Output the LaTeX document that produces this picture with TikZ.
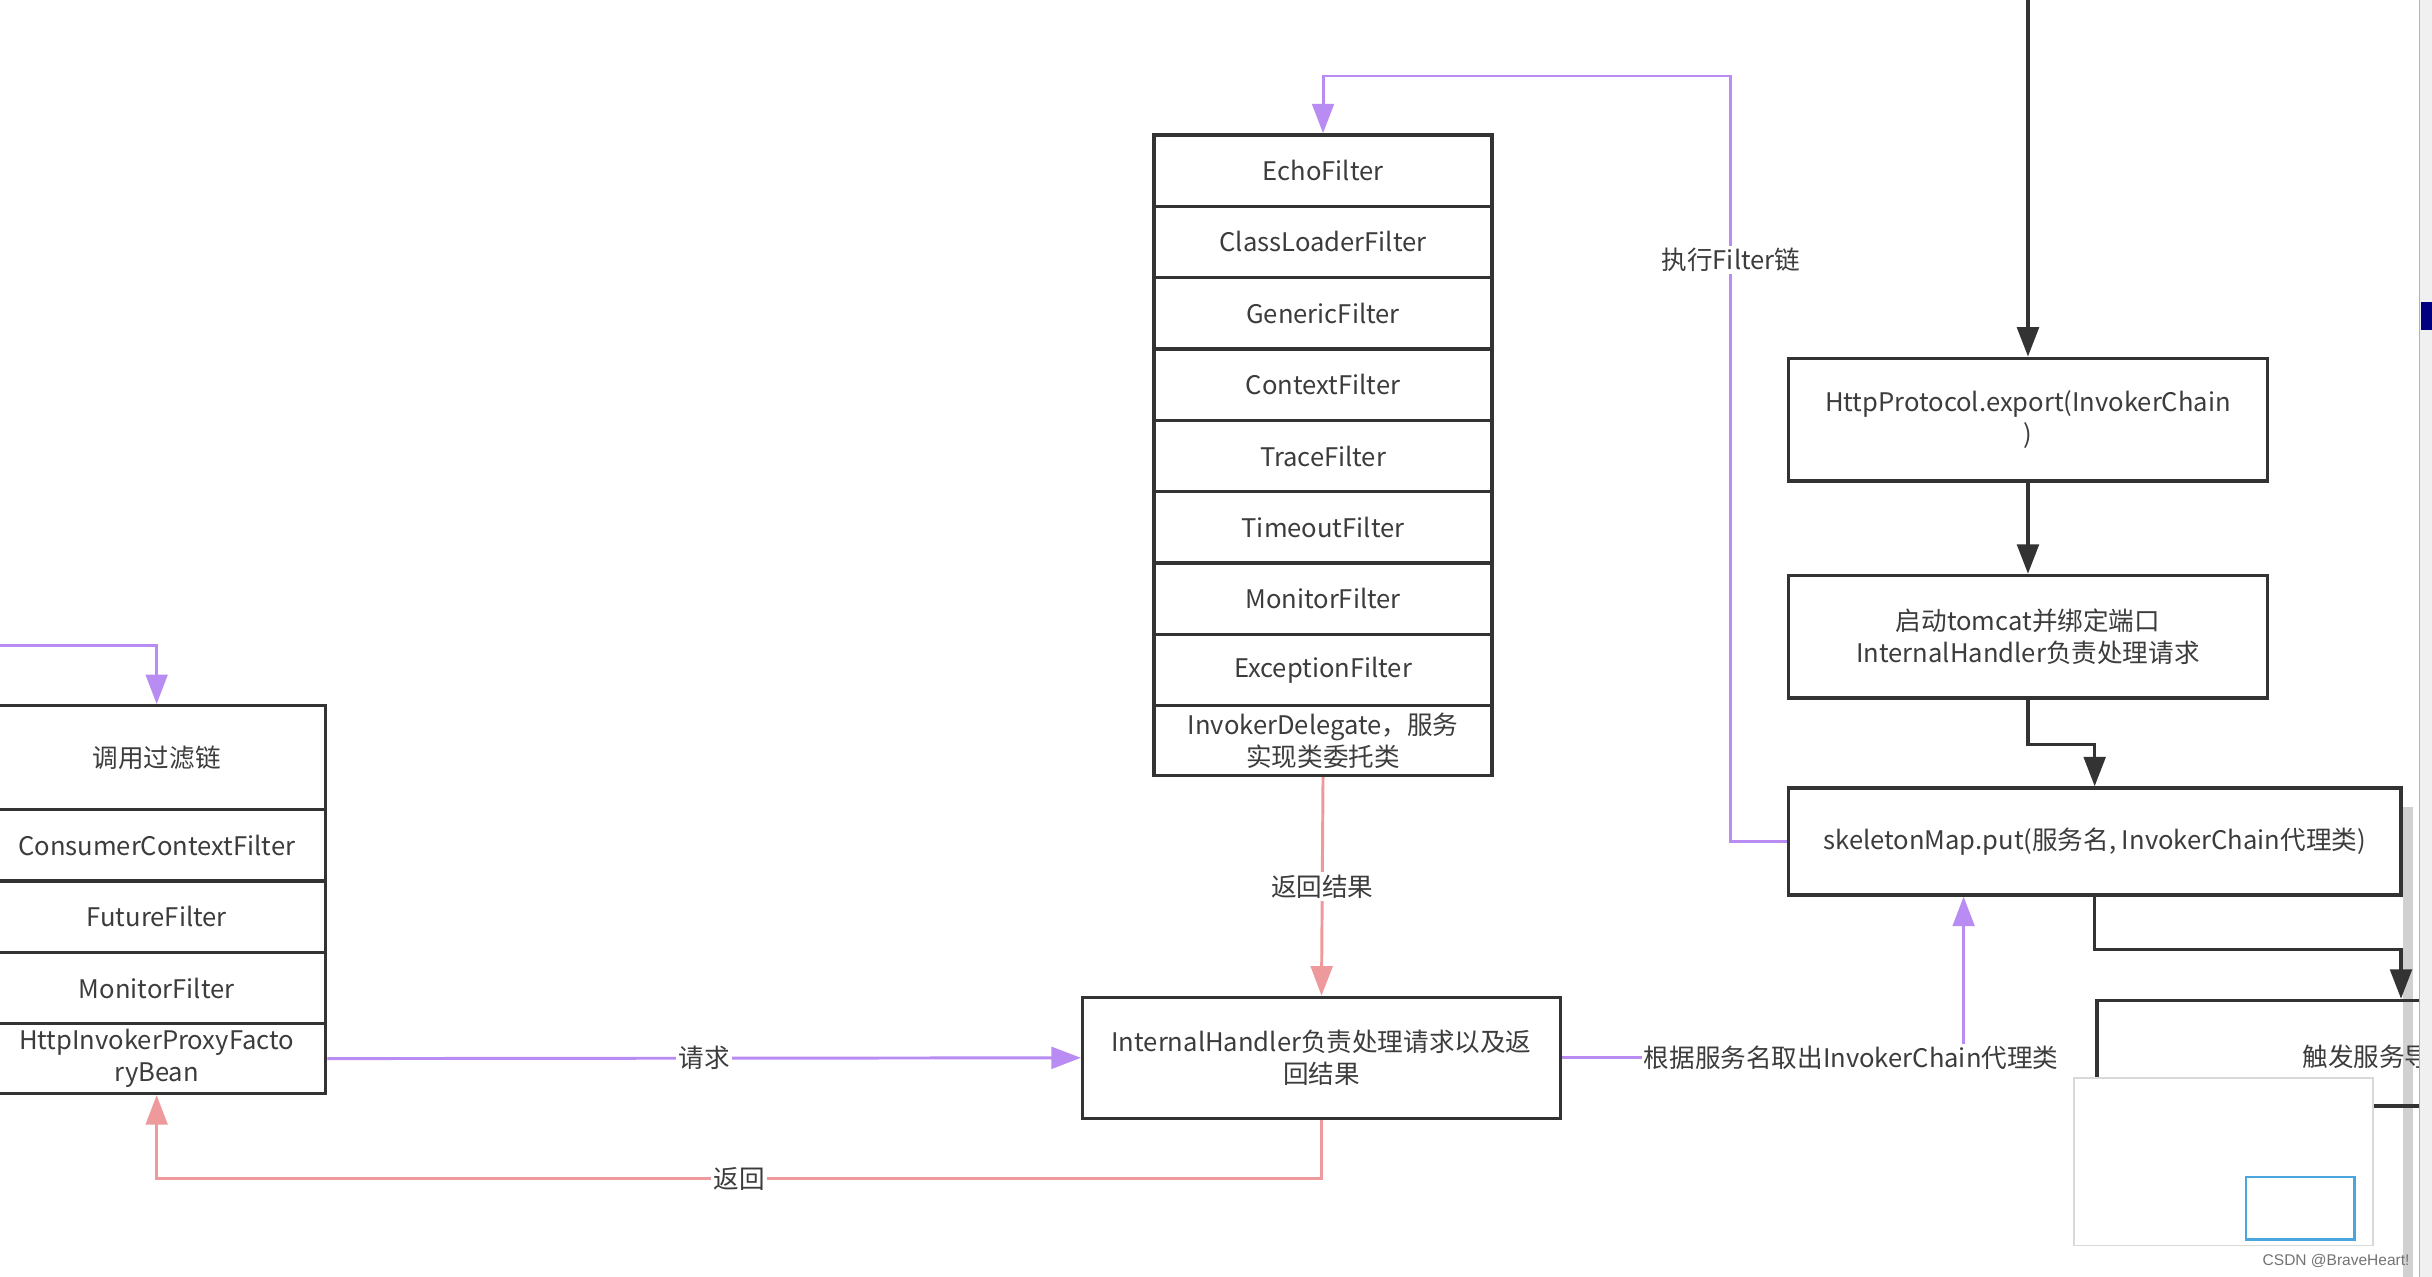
\documentclass[tikz,border=0pt]{standalone}
\usepackage{fontspec}
\setmainfont{Noto Sans CJK SC}
\newfontfamily\wmfont{Liberation Sans}
\usetikzlibrary{arrows.meta}

\definecolor{linec}{HTML}{333333}
\definecolor{txtc}{HTML}{3C3C3C}
\definecolor{reqc}{HTML}{B98CF3}
\definecolor{retc}{HTML}{EE9A9C}
\definecolor{panelc}{HTML}{F0F0F0}
\definecolor{mapc}{HTML}{4BA6E0}

\begin{document}
\begin{tikzpicture}[x=1pt,y=-1pt,>/.tip={Triangle[length=19pt,width=14pt]},
	font=\fontsize{16.5}{20.5}\selectfont,
	box/.style={draw=linec,line width=2.2pt,inner sep=0pt,align=center,text=txtc},
	row/.style={box,minimum width=218pt,minimum height=46pt},
	req/.style={draw=reqc,line width=1.9pt,->},
	back/.style={draw=retc,line width=1.9pt,->},
	flow/.style={draw=linec,line width=2.2pt,->},
	lbl/.style={fill=white,inner sep=1.5pt,text=txtc}]
	\fill[white] (0,0) rectangle (1568,823);
	\useasboundingbox (0,0) rectangle (1568,823);
	% scroll bar under the drawing
	\fill[black!18] (1549,520) rectangle (1556,823);

	% provider side filter chain
	\draw (853,110) node (echo) [row] {EchoFilter};
	\draw (853,156) node (cload) [row] {ClassLoaderFilter};
	\draw (853,202) node (gen) [row] {GenericFilter};
	\draw (853,248) node (ctx) [row] {ContextFilter};
	\draw (853,294) node (trace) [row] {TraceFilter};
	\draw (853,340) node (tout) [row] {TimeoutFilter};
	\draw (853,386) node (pmon) [row] {MonitorFilter};
	\draw (853,432) node (exc) [row] {ExceptionFilter};
	\draw (853,477.5) node (deleg) [row,minimum height=45pt] {InvokerDelegate，服务\\实现类委托类};

	% consumer side filter chain
	\draw (101,488.5) node (call) [row,minimum height=67pt] {调用过滤链};
	\draw (101,545) node (ccf) [row] {ConsumerContextFilter};
	\draw (101,591) node (fut) [row] {FutureFilter};
	\draw (101,637) node (cmon) [row] {MonitorFilter};
	\draw (101,682.5) node (proxy) [row,minimum height=45pt] {HttpInvokerProxyFacto\\ryBean};

	\draw (852,682) node (ih) [box,minimum width=308pt,minimum height=78pt] {InternalHandler负责处理请求以及返\\回结果};

	% export steps
	\draw (1307.5,270.5) node (exp) [box,minimum width=309pt,minimum height=79pt] {HttpProtocol.export(InvokerChain\\)};
	\draw (1307.5,410.5) node (tom) [box,minimum width=309pt,minimum height=79pt] {启动tomcat并绑定端口\\InternalHandler负责处理请求};
	\draw (1350.5,542.5) node (skel) [box,minimum width=395pt,minimum height=69pt] {skeletonMap.put(服务名, InvokerChain代理类)};
	\draw (1548,679) node (trig) [box,minimum width=392pt,minimum height=68pt] {};
	\node (trigtxt) [anchor=west,text=txtc] at (1481,681) {触发服务导};

	\coordinate (top) at (1307.5,-5);
	\draw[flow] (top) -- (exp);
	\draw[flow] (exp) -- (tom);
	\draw[flow] (tom.south) -- ++(0,29) -| (skel.north);
	\draw[flow] (skel.south) -- ++(0,34) -| (trig.north);

	\draw[req] (skel.west) -| node[lbl,pos=0.88] {执行Filter链} (1116,49) -| (echo.north);
	\coordinate (leftin) at (-5,416);
	\draw[req] (leftin) -| (call.north);
	\draw[req] (proxy.east) -- node[lbl] {请求} (ih.west);
	\draw[req] (ih.east) -| node[lbl,pos=0.36] {根据服务名取出InvokerChain代理类} (1266,0 |- skel.south);
	\draw[back] (deleg.south) -- node[lbl] {返回结果} (ih.north);
	\draw[back] (ih.south) |- node[lbl,pos=0.75] {返回} (proxy.south |- 0,760) -- (proxy.south);

	% window parts over the drawing
	\draw[black!30,fill=panelc] (1560,-5) rectangle (1575,830);
	\fill[blue!50!black] (1561,195) rectangle (1568,213);
	\draw[black!15,fill=white,line width=1pt] (1337,695) rectangle (1530,803);
	\draw[mapc,line width=1.6pt] (1448,759) rectangle (1518,799);
	\node (wm) [anchor=east,text=black!55,font=\wmfont\fontsize{10}{12}\selectfont] at (1557,813) {CSDN @BraveHeart!};
\end{tikzpicture}
\end{document}
